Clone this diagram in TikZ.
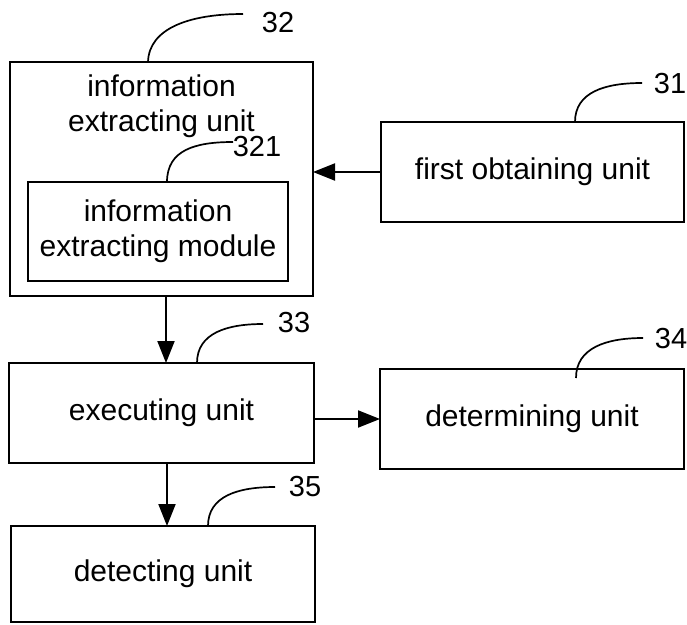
\documentclass[tikz,border=0pt]{standalone}
\usepackage{fontspec}
\setmainfont{Liberation Sans}
\usetikzlibrary{arrows.meta,calc}
\tikzset{
  blk/.style={draw=black, line width=1.9pt, inner sep=0pt, outer sep=0pt, rectangle},
  lbl/.style={font=\fontsize{30}{35}\selectfont, align=center, inner sep=0pt},
  num/.style={font=\fontsize{29}{33}\selectfont, inner sep=0pt},
  arr/.style={line width=1.9pt, -{Triangle[length=22pt,width=17pt]}},
  lead/.style={line width=1.7pt}
}
\begin{document}
\begin{tikzpicture}[x=1pt,y=-1pt]
\useasboundingbox (0,0) rectangle (687,624);
% boxes
\node[blk, minimum width=303pt, minimum height=234pt] (b32) at (161.5,179) {};
\node[lbl] (t32) at (161.5,106.6) {information\\extracting unit};
\node[blk, lbl, minimum width=260pt, minimum height=99pt] (b321) at (158,231.5) {information\\extracting module};
\node[blk, lbl, minimum width=303pt, minimum height=100pt] (b31) at (532.5,172) {first obtaining unit};
\node[blk, lbl, minimum width=305pt, minimum height=100pt] (bexe) at (161.5,413) {executing unit};
\node[blk, lbl, minimum width=304pt, minimum height=100pt] (bdet) at (532,419) {determining unit};
\node[blk, lbl, minimum width=304pt, minimum height=96pt] (bdtc) at (163,574) {detecting unit};
% reference numerals
\node[num] (n32) at (278,23) {32};
\node[num] (n321) at (257,147) {321};
\node[num] (n31) at (670,84) {31};
\node[num] (n33) at (294,323) {33};
\node[num] (n34) at (671,339) {34};
\node[num] (n35) at (305,487) {35};
% leader end points
\coordinate (s32) at (148,62);   \coordinate (e32) at (243,14);
\coordinate (s321) at (167,182); \coordinate (e321) at (233,142);
\coordinate (s31) at (575,122);  \coordinate (e31) at (642,83);
\coordinate (s33) at (197,363);  \coordinate (e33) at (263,324);
\coordinate (s34) at (576,378);  \coordinate (e34) at (643,338);
\coordinate (s35) at (208,526);  \coordinate (e35) at (275,487);
\draw[lead] (s32) .. controls (149,28) and (190,14) .. (e32);
\draw[lead] (s321) .. controls (167,150) and (195,142) .. (e321);
\draw[lead] (s31) .. controls (575,92) and (605,83) .. (e31);
\draw[lead] (s33) .. controls (197,333) and (227,324) .. (e33);
\draw[lead] (s34) .. controls (576,348) and (606,338) .. (e34);
\draw[lead] (s35) .. controls (208,496) and (238,487) .. (e35);
% arrows
\draw[arr] (b31.west) -- (b31.west -| b32.east);
\draw[arr] ([xshift=4.5pt]b32.south) -- ([xshift=4.5pt]b32.south |- bexe.north);
\draw[arr] (bexe.east |- bdet.west) -- (bdet.west);
\draw[arr] ([xshift=5.5pt]bexe.south) -- ([xshift=5.5pt]bexe.south |- bdtc.north);
\end{tikzpicture}
\end{document}
